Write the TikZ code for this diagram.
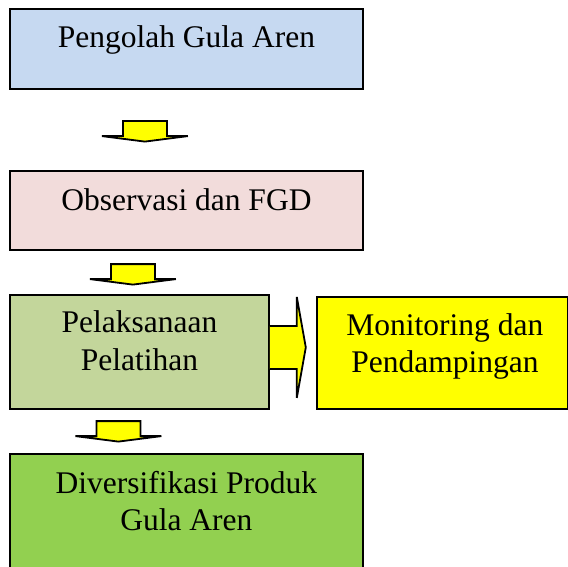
\documentclass[tikz,border=0pt]{standalone}
\usepackage{fontspec}
\setmainfont{Liberation Serif}
\usetikzlibrary{calc}

\definecolor{birumuda}{HTML}{C6D9F1}
\definecolor{merahmuda}{HTML}{F2DCDB}
\definecolor{hijaumuda}{HTML}{C3D69B}
\definecolor{hijautua}{HTML}{92D050}
\definecolor{kuning}{HTML}{FFFF00}

\begin{document}
\begin{tikzpicture}[x=1pt,y=-1pt,
    box/.style={draw, line width=1.8pt, anchor=north west, inner sep=0pt},
    lbl/.style={anchor=base, align=center, inner sep=0pt, font=\fontsize{31.5}{37.5}\selectfont},
    panah/.style={fill=kuning, draw=black, line width=1.8pt},
    downarr/.pic={
      \filldraw[panah] (-22,0) -- (22,0) -- (22,15) -- (43,15) -- (0,20.5) -- (-43,15) -- (-22,15) -- cycle;
    },
    rightarr/.pic={
      \filldraw[panah] (0,-21.5) -- (27,-21.5) -- (27,-50.5) -- (36,0) -- (27,50.5) -- (27,21.5) -- (0,21.5);
    }]
    \clip (0,0) rectangle (568,567);
    % kotak
    \node[box, fill=birumuda, minimum width=353pt, minimum height=80pt] (pengolah) at (9,8) {};
    \node[box, fill=merahmuda, minimum width=353pt, minimum height=79pt] (observasi) at (9,170) {};
    \node[box, fill=hijaumuda, minimum width=259pt, minimum height=114pt] (pelatihan) at (9,294) {};
    \node[box, fill=kuning, minimum width=251pt, minimum height=112pt] (monitoring) at (316,296) {};
    \node[box, fill=hijautua, minimum width=353pt, minimum height=137pt] (diversifikasi) at (9,453) {};
    % teks (base = baris terakhir)
    \node[lbl] (pengolahtxt) at ([yshift=-40pt]pengolah.north) {Pengolah Gula Aren};
    \node[lbl] (observasitxt) at ([yshift=-40.5pt]observasi.north) {Observasi dan FGD};
    \node[lbl] (pelatihantxt) at ([yshift=-76.2pt]pelatihan.north) {Pelaksanaan\\Pelatihan};
    \node[lbl] (monitoringtxt) at ([yshift=-76.5pt,xshift=2.5pt]monitoring.north) {Monitoring dan\\Pendampingan};
    \node[lbl] (diversifikasitxt) at ([yshift=-77.5pt]diversifikasi.north) {Diversifikasi Produk\\Gula Aren};
    % panah
    \pic at ($(pengolah.south)+(-41.5,31.3)$) {downarr};
    \pic at ($(observasi.south)+(-53.5,13.3)$) {downarr};
    \pic at ($(pelatihan.south)+(-21,11.3)$) {downarr};
    \pic at ([yshift=4.5pt]pelatihan.east) {rightarr};
\end{tikzpicture}
\end{document}
